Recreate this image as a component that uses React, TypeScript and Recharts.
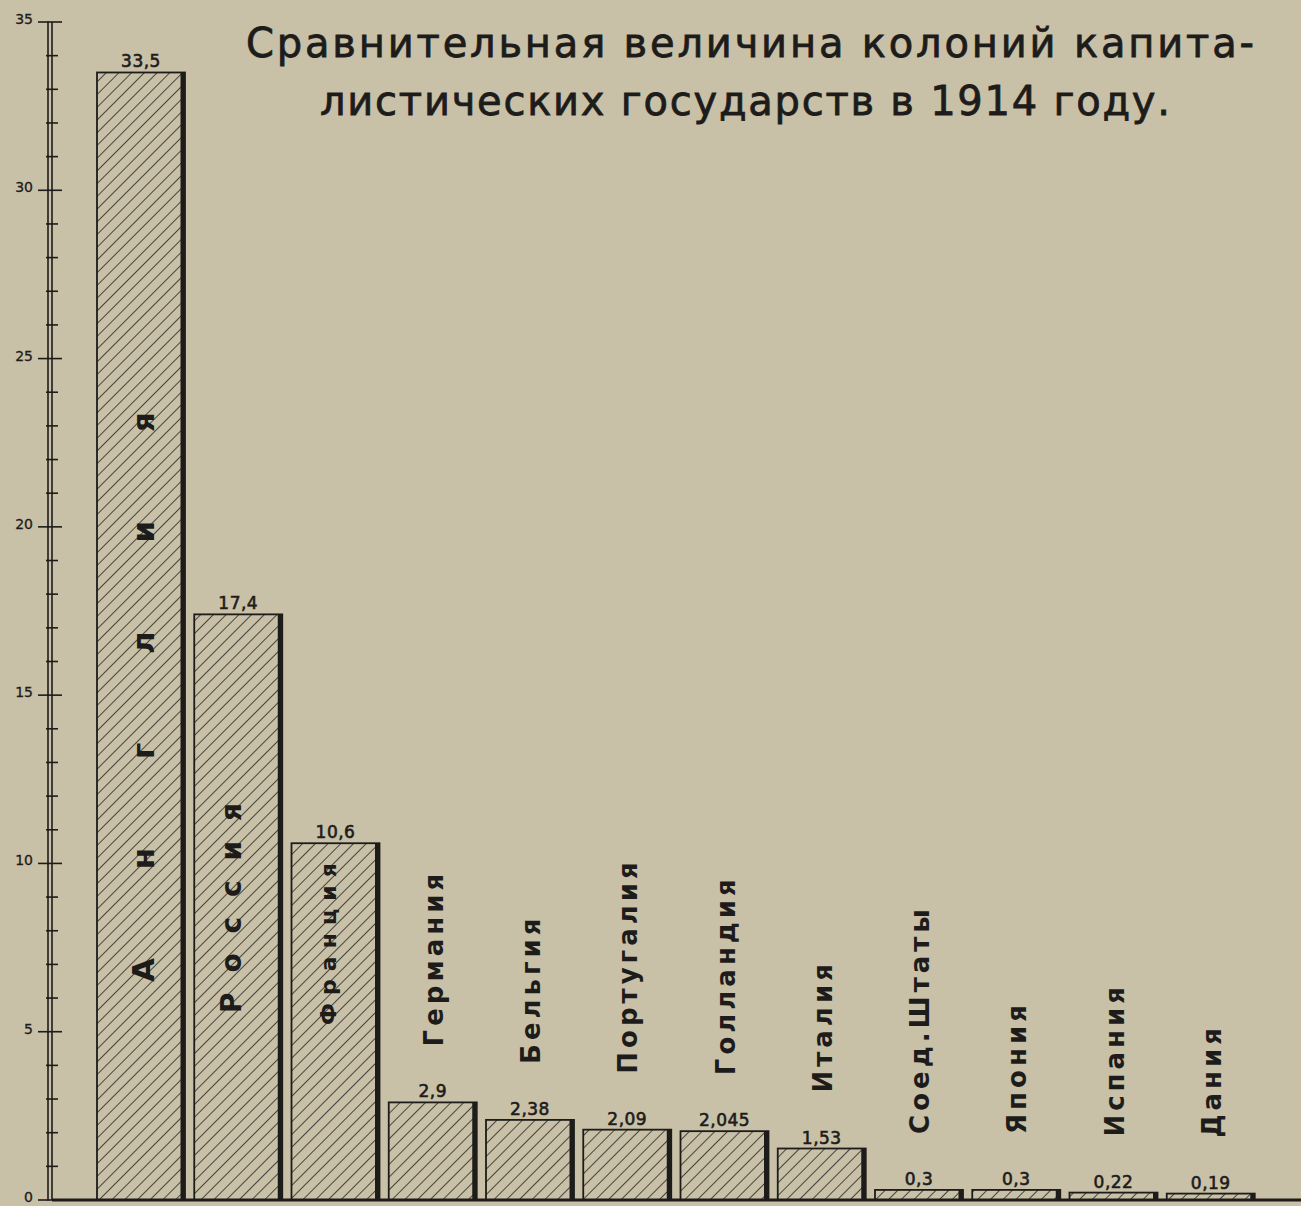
import { Bar, BarChart, LabelList, XAxis, YAxis } from 'recharts';

// Сравнительная величина колоний (млн кв. км), 1914 г.
const countries = [
  'Англия',
  'Россия',
  'Франция',
  'Германия',
  'Бельгия',
  'Португалия',
  'Голландия',
  'Италия',
  'Соед.Штаты',
  'Япония',
  'Испания',
  'Дания',
];
const areas = [33.5, 17.4, 10.6, 2.9, 2.38, 2.09, 2.045, 1.53, 0.3, 0.3, 0.22, 0.19];
const majorTicks = [0, 5, 10, 15, 20, 25, 30, 35];
const allTicks = Array.from({ length: 36 }, (_, i) => i);
const titleLines = ['Сравнительная величина колоний капита-', 'листических государств в 1914 году.'];

const data = countries.map((name, i) => ({ name, area: areas[i] }));

const PAPER = '#c8c0a7';
const INK = '#1d1c1a';
const FONT = '"DejaVu Sans", "Liberation Sans", sans-serif';

const W = 1301;
const H = 1206;
const MARGIN = { top: 22, right: 0, left: 0, bottom: 4 };
const X_AXIS_H = 2;
// шаг шкалы между соседними делениями (1 единица)
const STEP = (H - MARGIN.top - MARGIN.bottom - X_AXIS_H) / 35;

// подписи внутри высоких столбцов: отступ от основания, длина строки, кегль
const innerNames: Record<number, { bottom: number; length: number; size: number; dx: number }> = {
  0: { bottom: 218, length: 570, size: 31, dx: 2 },
  1: { bottom: 187, length: 210, size: 28, dx: -7 },
  2: { bottom: 175, length: 162, size: 22, dx: -7 },
};

function AxisTick({ x, y, payload }: any) {
  const v = payload.value as number;
  const major = majorTicks.includes(v);
  return (
    <g>
      {/* вторая линия двойной оси */}
      {v < 35 && <line x1={x - 4} x2={x - 4} y1={y + 0.8} y2={y - STEP - 0.8} stroke={INK} strokeWidth={1.6} />}
      {major ? (
        <line x1={x - 14} x2={x + 10} y1={y} y2={y} stroke={INK} strokeWidth={1.6} />
      ) : (
        <line x1={x - 6} x2={x + 6} y1={y} y2={y} stroke={INK} strokeWidth={1.6} />
      )}
      {major && (
        <text x={x - 19} y={y + 2} textAnchor="end" fontSize={14} fontFamily={FONT} fill={INK} stroke={INK} strokeWidth={0.3}>
          {v}
        </text>
      )}
    </g>
  );
}

function HatchedBar({ x, y, width, height }: any) {
  if (height <= 0) return null;
  return (
    <g>
      <rect x={x} y={y} width={width} height={height} fill="url(#hatch)" stroke={INK} strokeWidth={1.8} />
      <rect x={x + width - 4.5} y={y} width={4.5} height={height} fill={INK} />
    </g>
  );
}

function NameLabel({ x, y, width, height, value, index }: any) {
  const cx = x + width / 2;
  const inner = innerNames[index];
  if (inner) {
    return (
      <text
        transform={`translate(${cx + inner.dx + inner.size * 0.36},${y + height - inner.bottom}) rotate(-90)`}
        textLength={inner.length}
        lengthAdjust="spacing"
        fontSize={inner.size}
        fontWeight="bold"
        fontFamily={FONT}
        fill={INK}
      >
        {value}
      </text>
    );
  }
  return (
    <text
      transform={`translate(${cx + 10},${y - 56}) rotate(-90)`}
      fontSize={26}
      fontWeight="bold"
      letterSpacing={4}
      fontFamily={FONT}
      fill={INK}
    >
      {value}
    </text>
  );
}

function ValueLabel({ x, y, width, value }: any) {
  return (
    <text
      x={x + width / 2}
      y={y - 5}
      textAnchor="middle"
      fontSize={17}
      letterSpacing={0.5}
      fontFamily={FONT}
      fill={INK}
      stroke={INK}
      strokeWidth={0.6}
    >
      {String(value).replace('.', ',')}
    </text>
  );
}

export default function App() {
  return (
    <div style={{ position: 'absolute', left: 0, top: 0, width: W, height: H, background: PAPER }}>
      <svg width={0} height={0} style={{ position: 'absolute' }}>
        <defs>
          <pattern id="hatch" patternUnits="userSpaceOnUse" width={9} height={9} patternTransform="rotate(45)">
            <rect width={9} height={9} fill={PAPER} />
            <line x1={0} y1={0} x2={0} y2={9} stroke={INK} strokeWidth={1.5} />
          </pattern>
        </defs>
      </svg>
      <BarChart width={W} height={H} data={data} margin={MARGIN}>
        <XAxis
          dataKey="name"
          tick={false}
          tickLine={false}
          height={X_AXIS_H}
          padding={{ left: 40, right: 42 }}
          axisLine={{ stroke: INK, strokeWidth: 3 }}
        />
        <YAxis
          domain={[0, 35]}
          ticks={allTicks}
          interval={0}
          width={52}
          tickSize={0}
          tickMargin={0}
          tickLine={false}
          tick={<AxisTick />}
          axisLine={{ stroke: INK, strokeWidth: 1.6 }}
        />
        <Bar dataKey="area" barSize={88} shape={<HatchedBar />} isAnimationActive={false}>
          <LabelList dataKey="area" content={<ValueLabel />} />
          <LabelList dataKey="name" content={<NameLabel />} />
        </Bar>
      </BarChart>
      <svg width={W} height={140} style={{ position: 'absolute', left: 0, top: 0, pointerEvents: 'none' }}>
        <text x={750} y={57} textAnchor="middle" textLength={1008} lengthAdjust="spacing" fontSize={40} fontFamily={FONT} fill={INK} stroke={INK} strokeWidth={0.8}>
          {titleLines[0]}
        </text>
        <text x={745} y={115} textAnchor="middle" textLength={850} lengthAdjust="spacing" fontSize={40} fontFamily={FONT} fill={INK} stroke={INK} strokeWidth={0.8}>
          {titleLines[1]}
        </text>
      </svg>
    </div>
  );
}
